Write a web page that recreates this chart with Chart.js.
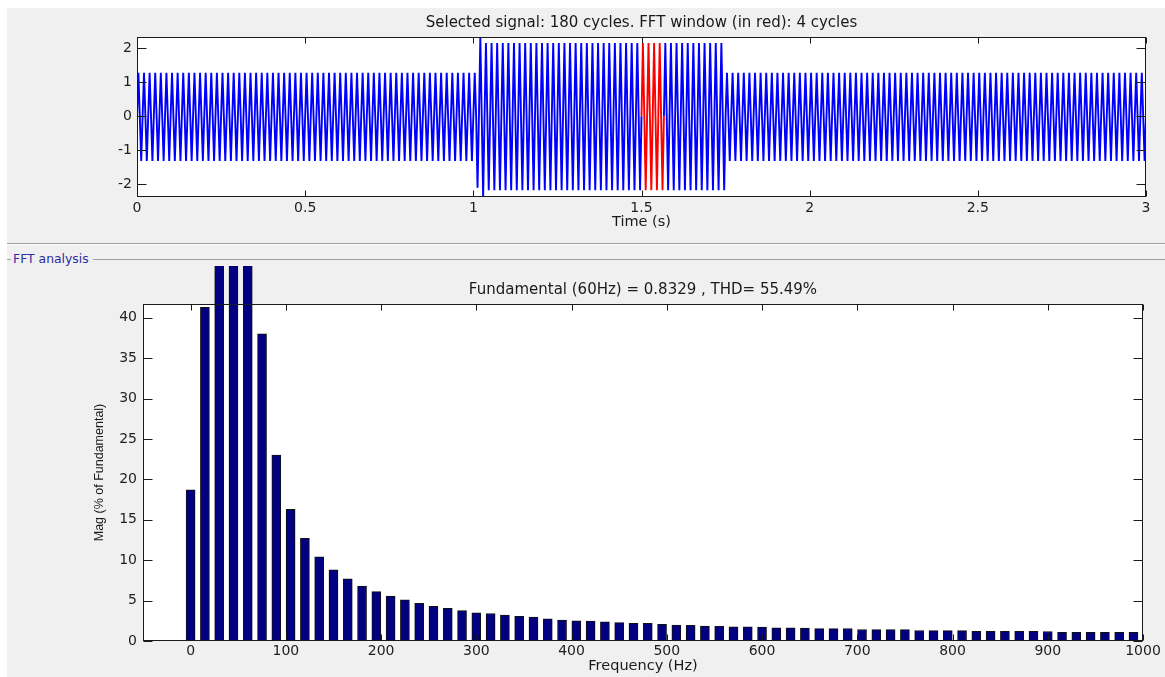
<!DOCTYPE html>
<html>
<head>
<meta charset="utf-8">
<script src="https://cdn.jsdelivr.net/npm/chart.js@4.4.1/dist/chart.umd.min.js"></script>
<style>
html,body{margin:0;padding:0;background:#fff;}
body{width:1165px;height:677px;position:relative;overflow:hidden;font-family:"DejaVu Sans",sans-serif;}
#panel{position:absolute;left:7px;top:8px;right:0;bottom:0;background:#f0f0f0;}
#sep{position:absolute;left:7px;right:0;top:243px;height:1px;background:#a0a0a0;border-bottom:1px solid #ffffff;}
#fftLine1{position:absolute;left:7px;width:4px;top:259px;height:1px;background:#a0a0a0;}
#fftLine2{position:absolute;left:93px;right:0;top:259px;height:1px;background:#a0a0a0;}
#fftLabel{position:absolute;left:13px;top:251px;font-size:12.4px;line-height:15px;color:#2c2ca0;white-space:nowrap;}
#c1{position:absolute;left:0;top:0;}
#c2{position:absolute;left:0;top:262px;}
</style>
</head>
<body>
<div id="panel"></div>
<div id="sep"></div>
<div id="fftLine1"></div>
<div id="fftLine2"></div>
<div id="fftLabel">FFT analysis</div>
<canvas id="c1" width="1165" height="240"></canvas>
<canvas id="c2" width="1165" height="415"></canvas>
<script>
// ---------------- top panel: selected signal ----------------
const signalTitle = 'Selected signal: 180 cycles. FFT window (in red): 4 cycles';
const signalCycles = 180;          // cycles shown (0 .. 3 s)
const signalFreqHz = 60;           // fundamental
// peak envelope: cycle index where each level starts
const envStartCycle = [0, 60, 61, 62, 105];
const envPosPeak    = [1.28, 1.28, 2.33, 2.15, 1.28];
const envNegPeak    = [-1.31, -2.10, -2.37, -2.17, -1.31];
const fftWindowStart = 1.5;        // s
const fftWindowCycles = 4;
const timeTicks = [0, 0.5, 1, 1.5, 2, 2.5, 3];
const timeTickLabels = ['0', '0.5', '1', '1.5', '2', '2.5', '3'];
const signalTicks = [-2, -1, 0, 1, 2];
const signalTickLabels = ['-2', '-1', '0', '1', '2'];

// ---------------- bottom panel: FFT analysis ----------------
const fftTitle = 'Fundamental (60Hz) = 0.8329 , THD= 55.49%';
const freqHz = [0,15,30,45,60,75,90,105,120,135,150,165,180,195,210,225,240,255,270,285,
  300,315,330,345,360,375,390,405,420,435,450,465,480,495,510,525,540,555,570,585,
  600,615,630,645,660,675,690,705,720,735,750,765,780,795,810,825,840,855,870,885,
  900,915,930,945,960,975,990];
const magPct = [18.7,41.3,62,85,100,38.0,23.0,16.3,12.7,10.4,8.8,7.7,6.8,6.1,5.55,5.1,4.65,4.3,4.05,3.75,
  3.5,3.4,3.2,3.05,2.95,2.75,2.6,2.5,2.48,2.37,2.27,2.2,2.18,2.07,1.96,1.94,1.84,1.82,1.76,1.74,
  1.72,1.62,1.62,1.6,1.54,1.53,1.55,1.42,1.41,1.4,1.4,1.3,1.29,1.28,1.28,1.2,1.2,1.2,1.19,1.19,
  1.18,1.08,1.08,1.07,1.07,1.07,1.06];
const freqTicks = [0,100,200,300,400,500,600,700,800,900,1000];
const freqTickLabels = ['0','100','200','300','400','500','600','700','800','900','1000'];
const magTicks = [0,5,10,15,20,25,30,35,40];
const magTickLabels = ['0','5','10','15','20','25','30','35','40'];

Chart.defaults.font.family = '"DejaVu Sans", sans-serif';
Chart.defaults.color = '#1e1e1e';

// signal polyline through the peaks of each 60 Hz cycle
function envIndex(k){ let idx = 0; for (let j = 0; j < envStartCycle.length; j++) if (k >= envStartCycle[j]) idx = j; return idx; }
const sigPts = [];
for (let k = 0; k < signalCycles; k++) {
  const e = envIndex(k);
  const t0 = k / signalFreqHz;
  sigPts.push({x: t0, y: 0});
  sigPts.push({x: t0 + 0.25 / signalFreqHz, y: envPosPeak[e]});
  sigPts.push({x: t0 + 0.5 / signalFreqHz, y: 0});
  sigPts.push({x: t0 + 0.75 / signalFreqHz, y: envNegPeak[e]});
}
sigPts.push({x: signalCycles / signalFreqHz, y: 0});
const winEnd = fftWindowStart + fftWindowCycles / signalFreqHz;
const eps = 1e-9;
const bluePts = sigPts.map(p => (p.x > fftWindowStart + eps && p.x < winEnd - eps) ? {x: p.x, y: null} : p);
const redPts = sigPts.filter(p => p.x >= fftWindowStart - eps && p.x <= winEnd + eps);

function makeFrame(xLen, yLen) {
  return {
    id: 'frame',
    beforeDraw(chart) {
      const a = chart.chartArea, c = chart.ctx;
      c.save(); c.fillStyle = '#ffffff';
      c.fillRect(a.left, a.top, a.right - a.left, a.bottom - a.top);
      c.restore();
    },
    afterDatasetsDraw(chart) {
      const a = chart.chartArea, c = chart.ctx;
      const L = Math.round(a.left) + 0.5, R = Math.round(a.right) - 0.5;
      const T = Math.round(a.top) + 0.5, B = Math.round(a.bottom) - 0.5;
      c.save();
      c.strokeStyle = '#1a1a1a'; c.lineWidth = 1;
      c.beginPath();
      chart.scales.x.ticks.forEach(t => {
        const px = Math.round(chart.scales.x.getPixelForValue(t.value)) + 0.5;
        c.moveTo(px, B); c.lineTo(px, B - xLen);
        c.moveTo(px, T); c.lineTo(px, T + xLen);
      });
      chart.scales.y.ticks.forEach(t => {
        const py = Math.round(chart.scales.y.getPixelForValue(t.value)) + 0.5;
        c.moveTo(L, py); c.lineTo(L + yLen, py);
        c.moveTo(R, py); c.lineTo(R - yLen, py);
      });
      c.stroke();
      c.strokeRect(L, T, R - L, B - T);
      c.restore();
    }
  };
}

function labelFrom(vals, labels) {
  return function(value) { const i = vals.findIndex(v => Math.abs(v - value) < 1e-9); return i >= 0 ? labels[i] : ''; };
}

new Chart(document.getElementById('c1'), {
  type: 'line',
  data: {
    datasets: [
      {data: redPts, borderColor: '#ff0000', borderWidth: 1.9, pointRadius: 0, borderJoinStyle: 'bevel', order: 0, tension: 0},
      {data: bluePts, borderColor: '#0000ff', borderWidth: 1.9, pointRadius: 0, borderJoinStyle: 'bevel', order: 1, spanGaps: false, tension: 0}
    ]
  },
  options: {
    responsive: false, animation: false, events: [],
    layout: {padding: {left: 0, right: 19, top: 0, bottom: 0}},
    plugins: {
      legend: {display: false}, tooltip: {enabled: false},
      title: {display: true, text: signalTitle, fullSize: false, color: '#1a1a1a',
              font: {size: 15, weight: 'normal'}, padding: {top: 14, bottom: 5}}
    },
    scales: {
      x: {type: 'linear', min: 0, max: 3,
          grid: {display: false, drawTicks: false}, border: {display: false},
          ticks: {font: {size: 14}, padding: 3, maxRotation: 0, autoSkip: false, callback: labelFrom(timeTicks, timeTickLabels)},
          title: {display: true, text: 'Time (s)', color: '#1a1a1a', font: {size: 14.5}, padding: {top: 0, bottom: 8.8}},
          afterBuildTicks: s => { s.ticks = timeTicks.map(v => ({value: v})); },
          afterFit: s => { s.height = 43; }},
      y: {type: 'linear', min: -2.37, max: 2.33,
          grid: {display: false, drawTicks: false}, border: {display: false},
          ticks: {font: {size: 14}, padding: 5, autoSkip: false, callback: labelFrom(signalTicks, signalTickLabels)},
          afterBuildTicks: s => { s.ticks = signalTicks.map(v => ({value: v})); },
          afterFit: s => { s.width = 137; }}
    }
  },
  plugins: [makeFrame(6, 9)]
});

new Chart(document.getElementById('c2'), {
  type: 'bar',
  data: {
    datasets: [{
      data: freqHz.map((f, i) => ({x: f, y: magPct[i]})),
      backgroundColor: '#000080', borderColor: '#111111', borderWidth: 1,
      barThickness: 9, borderSkipped: 'start',
      clip: {left: 0, top: 38, right: 0, bottom: 0}
    }]
  },
  options: {
    responsive: false, animation: false, events: [],
    layout: {padding: {left: 0, right: 22, top: 0, bottom: 0}},
    plugins: {
      legend: {display: false}, tooltip: {enabled: false},
      title: {display: true, text: fftTitle, fullSize: false, color: '#1a1a1a',
              font: {size: 15, weight: 'normal'}, padding: {top: 19, bottom: 5}}
    },
    scales: {
      x: {type: 'linear', min: -50, max: 1000, offset: false,
          grid: {display: false, drawTicks: false}, border: {display: false},
          ticks: {font: {size: 14}, padding: 2, maxRotation: 0, autoSkip: false, callback: labelFrom(freqTicks, freqTickLabels)},
          title: {display: true, text: 'Frequency (Hz)', color: '#1a1a1a', font: {size: 14.5}, padding: {top: 0, bottom: 2}},
          afterBuildTicks: s => { s.ticks = freqTicks.map(v => ({value: v})); },
          afterFit: s => { s.height = 36; }},
      y: {type: 'linear', min: 0, max: 41.7,
          grid: {display: false, drawTicks: false}, border: {display: false},
          ticks: {font: {size: 14}, padding: 6, autoSkip: false, callback: labelFrom(magTicks, magTickLabels)},
          title: {display: true, text: 'Mag (% of Fundamental)', color: '#1a1a1a',
                  font: {family: '"Liberation Sans", sans-serif', size: 12.5}, padding: {top: 92.5, bottom: 0}},
          afterBuildTicks: s => { s.ticks = magTicks.map(v => ({value: v})); },
          afterFit: s => { s.width = 143; }}
    }
  },
  plugins: [makeFrame(6, 9)]
});
</script>
</body>
</html>
